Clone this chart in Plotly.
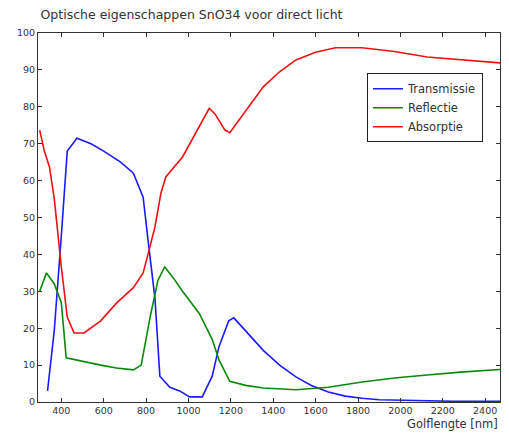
import plotly.graph_objects as go

# Transmissie
t_x = [335, 367, 400, 428, 474, 540, 600, 680, 740, 786, 809, 842, 865, 912, 958, 1005, 1065, 1112, 1144, 1190, 1214, 1280, 1353, 1430, 1507, 1580, 1660, 1740, 1819, 1900, 1972, 2100, 2250, 2400, 2490]
t_y = [3, 19.5, 45, 68, 71.5, 70, 68, 65, 62, 55.5, 44, 28, 7, 4, 3, 1.4, 1.4, 7, 15, 22, 22.8, 18.5, 14, 10, 6.8, 4.5, 2.7, 1.6, 1, 0.6, 0.5, 0.3, 0.2, 0.2, 0.2]

# Reflectie
r_x = [298, 315, 330, 367, 400, 423, 460, 507, 586, 660, 740, 777, 819, 856, 888, 930, 972, 1051, 1112, 1144, 1195, 1270, 1353, 1507, 1660, 1819, 1972, 2126, 2284, 2490]
r_y = [30, 33, 35, 32, 27, 12, 11.5, 11, 10, 9.2, 8.7, 10, 23, 33, 36.6, 33.5, 30, 24, 17, 11.4, 5.6, 4.5, 3.8, 3.3, 4, 5.4, 6.5, 7.3, 8.1, 8.9]

# Absorptie
a_x = [298, 320, 344, 367, 400, 428, 460, 507, 586, 660, 740, 786, 809, 842, 870, 893, 972, 1051, 1098, 1126, 1172, 1195, 1270, 1353, 1430, 1507, 1600, 1693, 1819, 1972, 2126, 2284, 2490]
a_y = [73.7, 68, 63.7, 55, 36.6, 23, 18.7, 18.7, 22, 26.8, 31, 35, 40, 47.5, 56.6, 61, 66.4, 74.5, 79.6, 78, 73.7, 73, 79, 85.4, 89.5, 92.7, 94.8, 96, 96, 95, 93.5, 92.7, 91.8]

x_ticks = list(range(400, 2401, 200))
y_ticks = list(range(0, 101, 10))

fig = go.Figure()
fig.add_trace(go.Scatter(x=t_x, y=t_y, mode="lines", name="Transmissie",
                         line=dict(color="#1a1aff", width=1.6)))
fig.add_trace(go.Scatter(x=r_x, y=r_y, mode="lines", name="Reflectie",
                         line=dict(color="#0a880a", width=1.6)))
fig.add_trace(go.Scatter(x=a_x, y=a_y, mode="lines", name="Absorptie",
                         line=dict(color="#ee1111", width=1.6)))

fam = "DejaVu Sans, Liberation Sans, sans-serif"

fig.update_layout(
    width=493, height=425,
    margin=dict(l=30, r=1, t=25, b=31),
    paper_bgcolor="white", plot_bgcolor="white",
    font=dict(family=fam, size=9.5, color="#333"),
    title=dict(text="Optische eigenschappen SnO34 voor direct licht",
               x=0.066, xanchor="left", y=0.985, yanchor="middle",
               font=dict(family=fam, size=12.5, color="#333")),
    showlegend=True,
    legend=dict(x=0.712, y=0.891, xanchor="left", yanchor="top",
                bordercolor="#222", borderwidth=1, bgcolor="white",
                font=dict(family=fam, size=11.5, color="#333"), tracegroupgap=0,
                itemwidth=30),
    xaxis=dict(range=[290, 2470], tickvals=x_ticks,
               ticks="inside", ticklen=4, tickcolor="#333",
               ticklabeloverflow="allow",
               showgrid=False, zeroline=False, showline=True, linecolor="#333",
               linewidth=1, mirror="ticks"),
    yaxis=dict(range=[0, 100], tickvals=y_ticks,
               ticks="inside", ticklen=4, tickcolor="#333",
               showgrid=False, zeroline=False, showline=True, linecolor="#333",
               linewidth=1, mirror="ticks"),
    annotations=[dict(text="Golflengte [nm]", x=1.0, y=-0.06, xref="paper", yref="paper",
                      xanchor="right", yanchor="middle", showarrow=False,
                      font=dict(family=fam, size=11.5, color="#333"))],
)

fig.write_html("out.html")
